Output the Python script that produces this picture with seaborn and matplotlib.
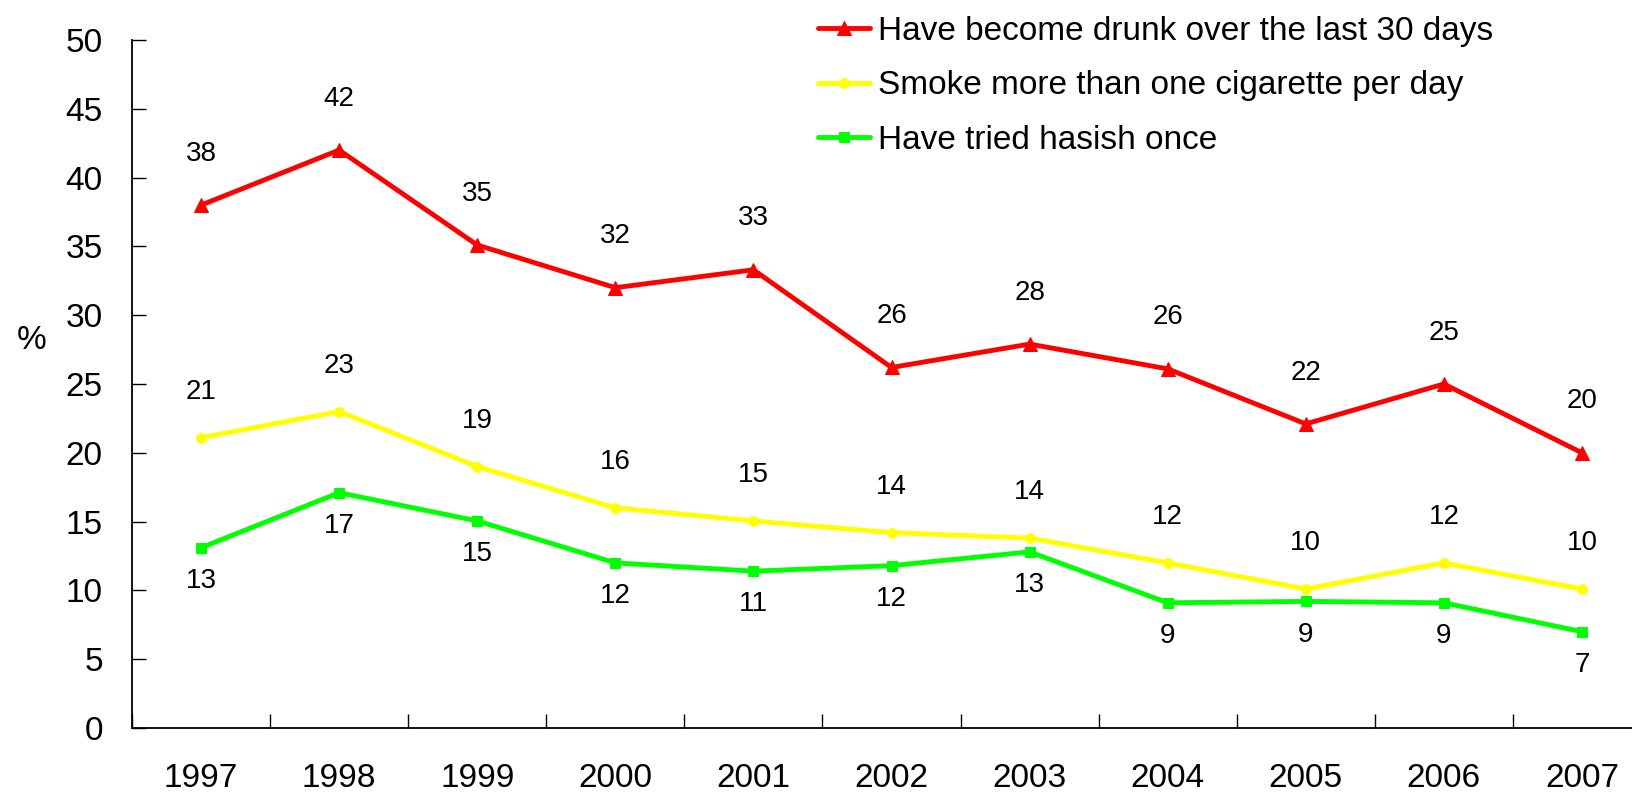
"""Trend of substance use among pupils, 1997-2007."""
import matplotlib
matplotlib.use("Agg")
import matplotlib.pyplot as plt
from matplotlib.ticker import FixedLocator, NullFormatter
import seaborn as sns

sns.set_theme(style="white")
plt.rcParams["font.family"] = ["Liberation Sans", "DejaVu Sans"]
plt.rcParams["text.color"] = "black"
plt.rcParams["xtick.color"] = "black"
plt.rcParams["ytick.color"] = "black"
plt.rcParams["axes.labelcolor"] = "black"

years = ["1997", "1998", "1999", "2000", "2001", "2002", "2003", "2004", "2005", "2006", "2007"]
drunk = [38.0, 42.0, 35.1, 32.0, 33.3, 26.2, 27.9, 26.1, 22.1, 25.0, 20.0]
smoke = [21.1, 23.0, 19.0, 16.0, 15.05, 14.2, 13.8, 12.0, 10.1, 12.0, 10.1]
hasish = [13.1, 17.1, 15.05, 12.0, 11.4, 11.8, 12.8, 9.1, 9.2, 9.1, 7.0]

series = [
    ("Have become drunk over the last 30 days", drunk, "#FF0000", "^", 10, 37),
    ("Smoke more than one cigarette per day", smoke, "#FFFF00", "o", 7, 33),
    ("Have tried hasish once", hasish, "#00FF00", "s", 7.5, -24),
]

fig = plt.figure(figsize=(16.32, 7.93), dpi=100)
ax = fig.add_axes([132 / 1632, 65 / 793, 1519 / 1632, 688 / 793])

x = list(range(len(years)))
for name, vals, color, marker, ms, off in series:
    sns.lineplot(x=x, y=vals, ax=ax, color=color, marker=marker, markersize=ms,
                 markeredgecolor=color, linewidth=3.5, label=name)
    for xi, v in zip(x, vals):
        ax.annotate(f"{v:.0f}", (xi, v), xytext=(0, off), textcoords="offset points",
                    ha="center", va="center", fontsize=20, color="black")

ax.set_xlim(-0.5, len(years) - 0.5)
ax.set_ylim(0, 50)
ax.set_yticks(range(0, 51, 5))
ax.set_xticks(x)
ax.set_xticklabels(years)
ax.xaxis.set_minor_locator(FixedLocator([i - 0.5 for i in range(len(years) + 1)]))
ax.xaxis.set_minor_formatter(NullFormatter())
ax.tick_params(axis="x", which="major", length=0, pad=25, labelsize=24)
ax.tick_params(axis="x", which="minor", direction="in", length=10, width=1, color="black", bottom=True)
ax.tick_params(axis="y", direction="in", length=10, width=1, color="black", left=True, pad=21, labelsize=24)
ax.set_ylabel("%", rotation=0, fontsize=24, labelpad=0)
ax.yaxis.set_label_coords(-0.066, 0.54)

for side in ["top", "right"]:
    ax.spines[side].set_visible(False)
for side in ["left", "bottom"]:
    ax.spines[side].set_color("black")
    ax.spines[side].set_linewidth(1.3)

ax.legend(loc="upper left", bbox_to_anchor=(818 / 1632, 1 - 16 / 793), bbox_transform=fig.transFigure,
          frameon=False, borderpad=0, borderaxespad=0, handlelength=1.56, handletextpad=0.24,
          labelspacing=0.7, prop={"size": 24})

fig.savefig("out.png", dpi=100)
plt.close()
